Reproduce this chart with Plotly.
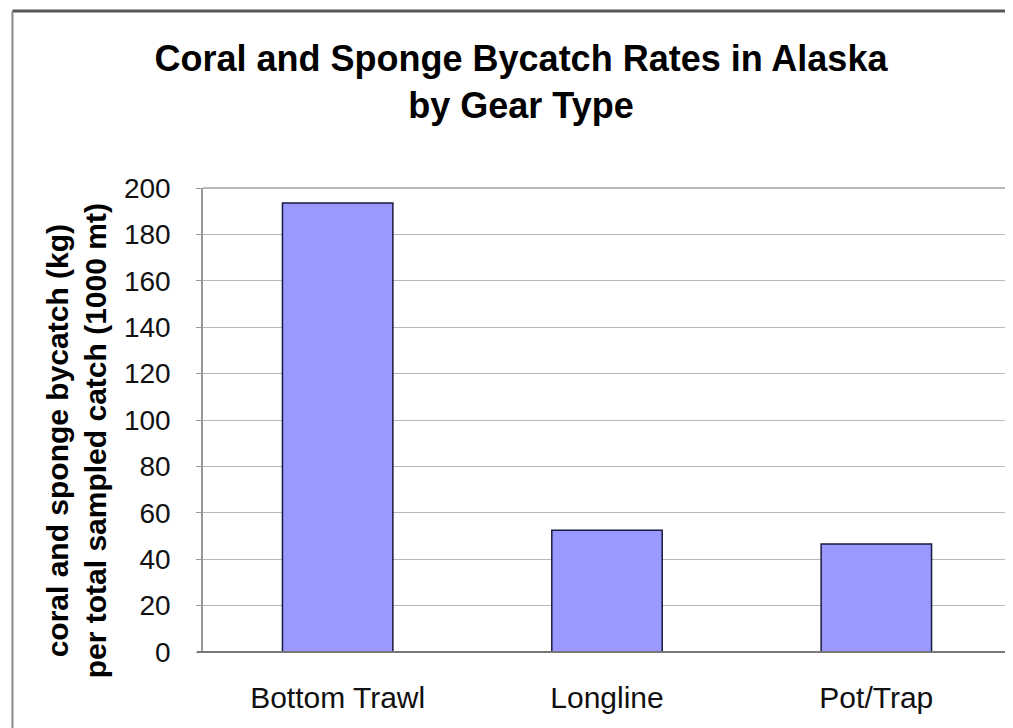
import plotly.graph_objects as go

categories = ["Bottom Trawl", "Longline", "Pot/Trap"]
bycatch_rate = [193.5, 52.5, 46.5]
y_ticks = [0, 20, 40, 60, 80, 100, 120, 140, 160, 180, 200]
y_title_lines = ["coral and sponge bycatch (kg)", "per total sampled catch (1000 mt)"]

W, H = 1005, 720
L, R, T, B = 195, 0, 180, 76
PW, PH = W - L - R, H - T - B

fig = go.Figure()
fig.add_trace(go.Bar(
    x=categories,
    y=bycatch_rate,
    width=0.41,
    marker=dict(color="#9999ff", line=dict(color="#1a1a40", width=1.5)),
))

font_family = "Liberation Sans, Arial, sans-serif"

fig.update_layout(
    width=W,
    height=H,
    margin=dict(l=L, r=R, t=T, b=B),
    paper_bgcolor="white",
    plot_bgcolor="white",
    showlegend=False,
    font=dict(family=font_family, color="black"),
    title=dict(
        text="<b>Coral and Sponge Bycatch Rates in Alaska<br>by Gear Type</b>",
        x=513 / W, xanchor="center",
        y=1 - 63 / H, yanchor="top",
        font=dict(size=36, family=font_family, color="black"),
    ),
    xaxis=dict(
        showgrid=False,
        showline=False,
        ticks="",
        tickfont=dict(size=30, color="#111"),
        ticklabelstandoff=25,
    ),
    yaxis=dict(
        range=[0, 200],
        tickvals=y_ticks,
        showgrid=True,
        gridcolor="#b8b8b8",
        gridwidth=1,
        showline=True,
        linecolor="#999999",
        linewidth=1.5,
        mirror=True,
        ticks="outside",
        ticklen=5,
        tickcolor="#999999",
        tickfont=dict(size=28, color="#111"),
        ticklabelstandoff=20,
        zeroline=False,
    ),
    shapes=[
        dict(type="line", xref="x domain", yref="y domain", x0=0, x1=1, y0=1, y1=1,
             line=dict(color="#a0a0a0", width=1.5)),
        dict(type="line", xref="x domain", yref="y domain", x0=0.998, x1=0.998, y0=0, y1=1,
             line=dict(color="#a0a0a0", width=1.5)),
        dict(type="line", xref="x domain", yref="y domain", x0=-6 / PW, x1=1, y0=0, y1=0,
             line=dict(color="#777777", width=2)),
        # outer frame
        dict(type="line", xref="paper", yref="paper",
             x0=(4 - L) / PW, x1=(W + 10 - L) / PW,
             y0=1 + (T - 3) / PH, y1=1 + (T - 3) / PH,
             line=dict(color="#555555", width=3)),
        dict(type="line", xref="paper", yref="paper",
             x0=(4 - L) / PW, x1=(4 - L) / PW,
             y0=1 + (T - 3) / PH, y1=-(B + 10) / PH,
             line=dict(color="#888888", width=2)),
    ],
    annotations=[
        dict(
            text="<b>%s</b>" % line,
            xref="paper", yref="paper",
            x=(xc - L) / PW, y=1 - (433 - T) / PH,
            xanchor="center", yanchor="middle",
            textangle=-90,
            showarrow=False,
            font=dict(size=30, family=font_family, color="black"),
        )
        for line, xc in zip(y_title_lines, [49, 87])
    ],
)

fig.write_html("out.html")
